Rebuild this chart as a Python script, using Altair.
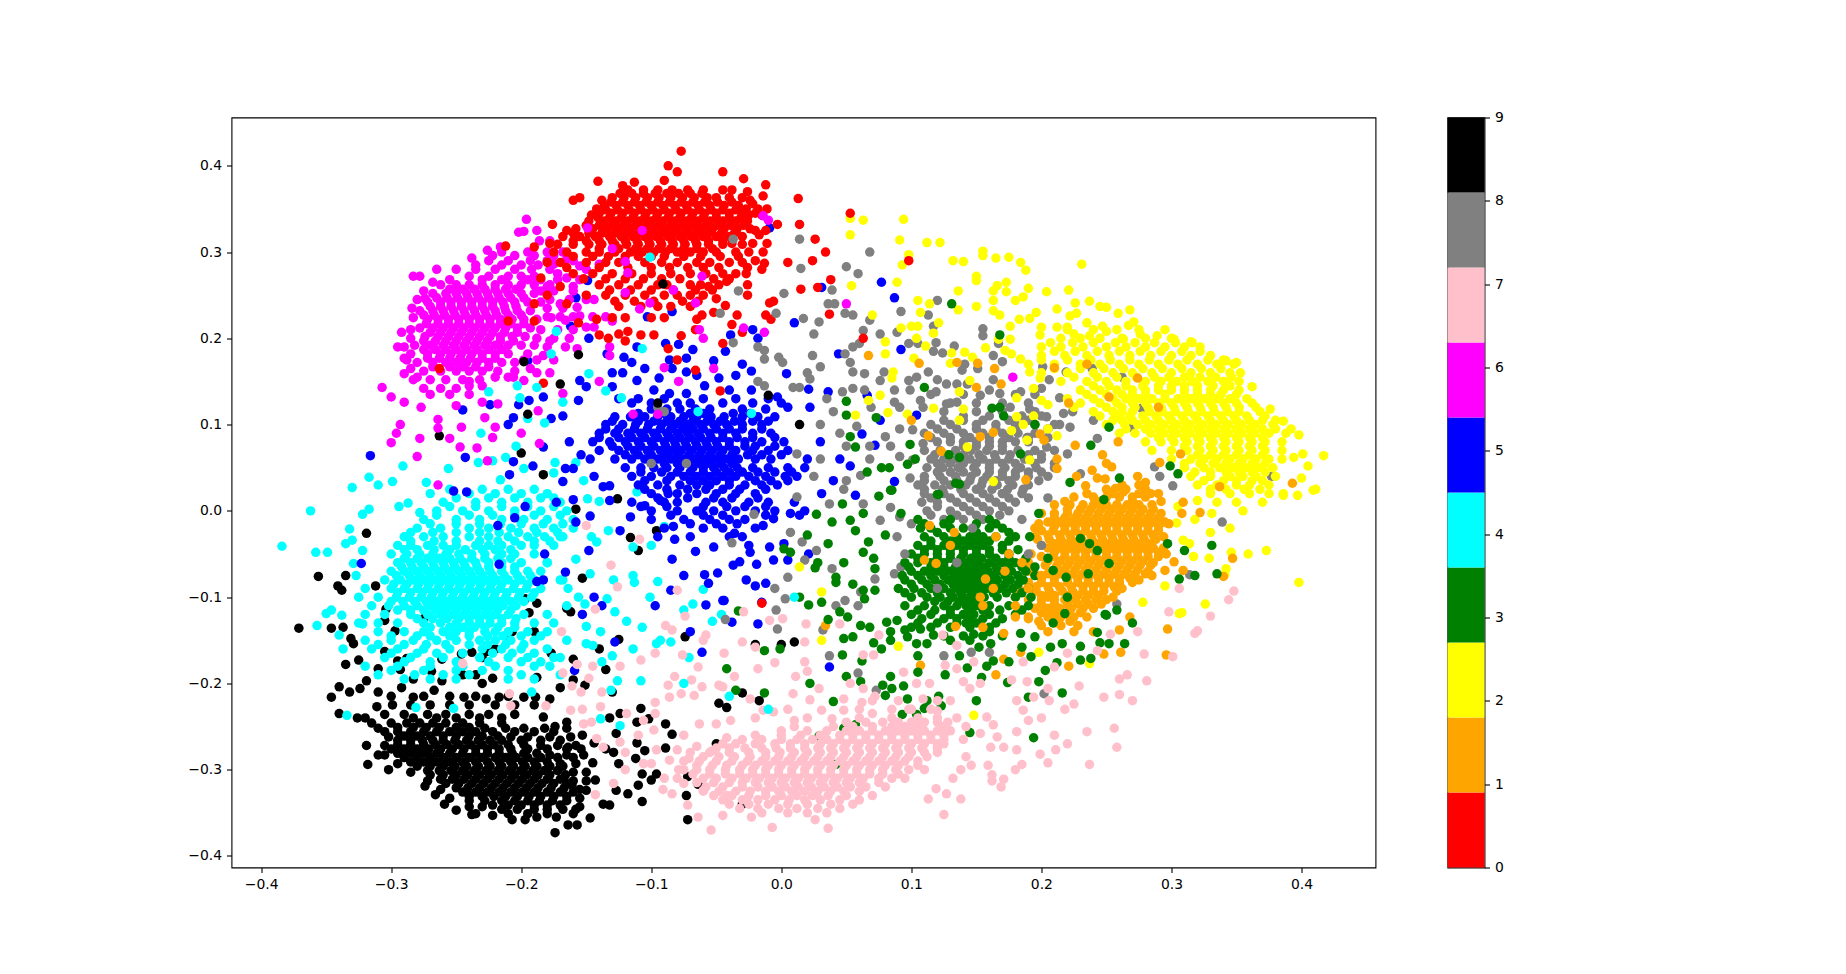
import altair as alt
import pandas as pd

COLORS = ["red","orange","yellow","green","cyan","blue","magenta","pink","gray","black"]
TICKS = [0,1,2,3,4,5,6,7,8,9]
BIN_LOW = [0,.9,1.8,2.7,3.6,4.5,5.4,6.3,7.2,8.1]
BIN_HIGH = [.9,1.8,2.7,3.6,4.5,5.4,6.3,7.2,8.1,9]
DRAW_ORDER = [9,4,5,6,0,8,2,1,3,7]

# ---- dense parts: (y, [x, x, ...]) ----
RED_CORE = [
(.372,[-.118,-.106,-.095,-.084,-.072,-.06,-.045,-.038]),
(.368,[-.124,-.115,-.106,-.097,-.088,-.079,-.07,-.061]),
(.363,[-.13,-.121,-.112,-.103,-.094,-.085,-.076,-.067,-.057,-.05,-.04,-.03]),
(.358,[-.131,-.122,-.113,-.104,-.095,-.086,-.077,-.068,-.059,-.049,-.038]),
(.354,[-.136,-.127,-.118,-.109,-.1,-.091,-.082,-.073,-.064,-.055,-.044,-.033]),
(.349,[-.135,-.126,-.117,-.108,-.099,-.09,-.081,-.072,-.063,-.054,-.045,-.035]),
(.345,[-.14,-.131,-.122,-.113,-.104,-.095,-.086,-.077,-.068,-.059,-.05,-.04,-.03,-.02]),
(.34,[-.141,-.132,-.123,-.114,-.105,-.096,-.087,-.078,-.069,-.06,-.05,-.04,-.031]),
(.336,[-.148,-.136,-.127,-.118,-.109,-.1,-.091,-.082,-.073,-.064,-.055,-.045,-.035,-.026]),
(.331,[-.15,-.14,-.13,-.121,-.112,-.103,-.094,-.085,-.076,-.067,-.058,-.049,-.039,-.029]),
(.327,[-.158,-.145,-.134,-.125,-.116,-.107,-.098,-.089,-.08,-.071,-.062,-.053,-.044,-.034,-.024]),
(.322,[-.16,-.148,-.138,-.128,-.119,-.11,-.101,-.092,-.083,-.074,-.065,-.056,-.046,-.036]),
(.318,[-.168,-.155,-.143,-.132,-.123,-.114,-.105,-.096,-.087,-.078,-.069,-.06,-.05,-.04,-.03]),
(.313,[-.16,-.15,-.14,-.13,-.12,-.111,-.102,-.093,-.084,-.075,-.066,-.056,-.045]),
(.309,[-.172,-.16,-.148,-.138,-.128,-.119,-.11,-.101,-.092,-.083,-.074,-.065,-.056,-.045,-.03]),
(.304,[-.14,-.125,-.112,-.103,-.094,-.085,-.075,-.065,-.053]),
(.3,[-.165,-.15,-.14,-.128,-.116,-.107,-.098,-.089,-.08,-.07,-.06,-.05,-.035,-.025]),
(.295,[-.16,-.145,-.133,-.12,-.11,-.1,-.09,-.075,-.062,-.047,-.033]),
(.288,[-.17,-.15,-.135,-.125,-.105,-.092,-.08,-.065,-.055,-.04,-.03]),
(.282,[-.165,-.14,-.118,-.1,-.086,-.072,-.06,-.048,-.026]),
(.275,[-.16,-.145,-.13,-.115,-.1,-.085,-.07,-.058,-.045,-.035]),
(.269,[-.152,-.135,-.12,-.106,-.092,-.078,-.052,-.04]),
(.262,[-.14,-.125,-.11,-.095,-.088,-.07,-.062,-.048]),
(.256,[-.132,-.116,-.1,-.083,-.066,-.053]),
(.25,[-.135,-.12,-.105,-.09,-.08,-.07,-.06]),
(.243,[-.128,-.113,-.098,-.076,-.064]),
(.237,[-.125,-.108,-.095,-.085,-.07]),
(.224,[-.13,-.12,-.1,-.09]),
(.343,[-.146,-.025,-.015]),(.325,[-.165,-.02,-.012]),(.35,[-.142,-.027,-.018]),(.31,[-.178,-.038,-.022]),(.36,[-.138,-.024]),
]
RED_SPARSE = [(-.077,.417),(-.087,.4),(-.08,.393),(-.045,.393),(-.012,.378),(-.141,.382),(-.122,.377),(-.113,.381),(-.09,.383),(-.029,.385),(-.014,.365),(-.026,.37),(-.022,.356),(-.011,.35),(.013,.362),(.014,.332),(.026,.315),(-.003,.332),(-.017,.32),(-.011,.31),(-.014,.3),(-.02,.29),(-.013,.287),(.005,.288),(.024,.29),(.034,.3),(.038,.268),(.015,.257),(.028,.259),(-.009,.241),(-.006,.243),(-.012,.227),(-.008,.222),(.037,.228),(-.03,.207),(-.038,.216),(-.045,.194),(-.034,.227),(-.043,.238),(-.05,.246),(-.052,.23),(-.061,.227),(-.065,.222),(-.066,.21),(-.077,.203),(-.098,.204),(-.108,.204),(-.087,.188),(-.08,.175),(-.066,.163),(-.12,.197),(-.118,.208),(-.125,.205),(-.133,.2),(-.14,.204),(-.142,.222),(-.156,.218),(-.047,.139),(-.183,.148),(-.212,.307),(-.19,.22),(-.19,.306),(-.18,.288),(-.175,.3),(-.176,.332),(-.16,.36),(-.155,.363),(-.026,.262),(-.026,.25),(-.042,.266),(-.015,.28),(-.027,.275),(-.056,.26),(-.18,.25),(-.17,.26),(-.165,.24),(-.15,.25),(-.185,.27)]

MAGENTA_CORE = [
(.272,[-.24,-.225,-.21,-.2,-.19]),
(.262,[-.262,-.25,-.24,-.23,-.22,-.21,-.2,-.19,-.178]),
(.257,[-.255,-.245,-.236,-.228,-.22,-.212,-.204]),
(.252,[-.268,-.258,-.25,-.242,-.234,-.226,-.218,-.21,-.2,-.19]),
(.247,[-.265,-.257,-.249,-.241,-.233,-.225,-.217,-.208,-.198]),
(.242,[-.272,-.262,-.254,-.246,-.238,-.23,-.222,-.214,-.205,-.195,-.185]),
(.237,[-.27,-.262,-.254,-.246,-.238,-.23,-.222,-.213,-.204]),
(.232,[-.278,-.268,-.26,-.252,-.244,-.236,-.228,-.22,-.212,-.203,-.193]),
(.227,[-.275,-.267,-.259,-.251,-.243,-.235,-.227,-.219,-.21,-.2]),
(.222,[-.272,-.264,-.256,-.248,-.24,-.232,-.224,-.216,-.207,-.198,-.188]),
(.217,[-.273,-.264,-.256,-.248,-.24,-.232,-.224,-.216,-.208,-.198]),
(.212,[-.278,-.268,-.26,-.252,-.244,-.236,-.228,-.22,-.212,-.203,-.193]),
(.207,[-.27,-.262,-.254,-.246,-.238,-.23,-.222,-.213,-.203]),
(.202,[-.274,-.264,-.256,-.248,-.24,-.232,-.224,-.216,-.207,-.197]),
(.197,[-.275,-.266,-.258,-.25,-.242,-.234,-.226,-.216,-.206]),
(.192,[-.282,-.27,-.26,-.252,-.244,-.236,-.228,-.22,-.21,-.2,-.19]),
(.187,[-.275,-.266,-.258,-.25,-.242,-.234,-.225,-.215]),
(.182,[-.285,-.272,-.262,-.254,-.246,-.238,-.23,-.22,-.21,-.195]),
(.177,[-.272,-.263,-.255,-.247,-.239,-.23,-.22]),
(.172,[-.28,-.268,-.258,-.25,-.242,-.234,-.225,-.215,-.205]),
(.167,[-.268,-.255,-.245,-.235,-.225]),
(.162,[-.275,-.262,-.25,-.24,-.23,-.218,-.205]),
(.152,[-.27,-.258,-.245,-.232]),
(.142,[-.275,-.262,-.25]),
(.285,[-.235,-.215,-.2,-.187]),
(.296,[-.222,-.205,-.19,-.175]),
(.3,[-.215,-.195,-.18,-.168]),
(.29,[-.225,-.21,-.193,-.18,-.16]),
(.28,[-.25,-.235,-.22,-.205,-.192,-.178,-.15]),
(.268,[-.255,-.23,-.215,-.195,-.185,-.172,-.155]),
(.255,[-.275,-.185,-.175,-.16]),
(.245,[-.178,-.163,-.15]),
(.235,[-.284,-.18,-.168]),
(.225,[-.18,-.17,-.16,-.145]),
(.21,[-.285,-.185,-.172,-.16]),
(.2,[-.285,-.188,-.175,-.163]),
(.19,[-.29,-.18]),
(.175,[-.288,-.198,-.188,-.175]),
(.165,[-.285,-.193]),
(.155,[-.28,-.22,-.21]),
(.145,[-.24,-.23]),
(.135,[-.27,-.255,-.24]),
]
MAGENTA_SPARSE = [(-.196,.338),(-.202,.323),(-.198,.324),(-.226,.302),(-.216,.306),(-.238,.293),(-.265,.28),(-.278,.272),(-.283,.272),(-.268,.265),(-.28,.245),(-.274,.246),(-.283,.224),(-.292,.207),(-.295,.19),(-.29,.177),(-.29,.159),(-.283,.152),(-.307,.143),(-.3,.132),(-.29,.126),(-.277,.12),(-.264,.106),(-.293,.1),(-.25,.122),(-.24,.15),(-.23,.126),(-.218,.124),(-.228,.108),(-.246,.097),(-.22,.097),(-.264,.096),(-.198,.151),(-.206,.155),(-.188,.16),(-.178,.16),(-.187,.116),(-.168,.136),(-.188,.325),(-.178,.313),(-.186,.313),(-.175,.286),(-.172,.275),(-.165,.292),(-.155,.284),(-.14,.286),(-.17,.24),(-.157,.236),(-.166,.221),(-.177,.224),(-.155,.226),(-.15,.213),(-.144,.213),(-.166,.19),(-.157,.188),(-.178,.197),(-.183,.18),(-.13,.22),(-.132,.19),(-.132,.18),(-.135,.225),(-.144,.245),(-.16,.26),(-.18,.26),(-.165,.27),(-.3,.079),(-.296,.09),(-.278,.084),(-.255,.084),(-.247,.074),(-.234,.073),(-.222,.085),(-.28,.063),(-.226,.058),(-.2,.09),(-.264,.03),(-.186,.078)]

BLUE_CORE = [
(.13,[-.125,-.11,-.09,-.06,-.035,-.01]),
(.125,[-.115,-.1,-.08,-.07,-.045,-.022,.0]),
(.118,[-.1,-.088,-.078,-.066,-.055,-.03,-.012]),
(.113,[-.11,-.09,-.07,-.06,-.037,-.024]),
(.109,[-.128,-.116,-.105,-.095,-.085,-.075,-.065,-.054,-.044,-.03,-.018,-.005]),
(.104,[-.13,-.11,-.098,-.088,-.078,-.068,-.057,-.047,-.036,-.022,-.01]),
(.1,[-.135,-.122,-.112,-.102,-.092,-.082,-.072,-.062,-.052,-.042,-.03,-.015]),
(.095,[-.135,-.125,-.113,-.103,-.093,-.085,-.076,-.068,-.06,-.05,-.04,-.03,-.015]),
(.09,[-.14,-.128,-.118,-.108,-.098,-.088,-.08,-.072,-.064,-.055,-.045,-.035,-.022,-.008]),
(.085,[-.14,-.125,-.115,-.105,-.095,-.086,-.078,-.07,-.062,-.054,-.045,-.034,-.022,-.005]),
(.08,[-.145,-.132,-.12,-.11,-.1,-.09,-.082,-.074,-.066,-.058,-.05,-.04,-.028,-.015,.002]),
(.075,[-.13,-.118,-.108,-.098,-.089,-.081,-.073,-.065,-.057,-.049,-.04,-.028,-.02,-.005]),
(.07,[-.14,-.125,-.113,-.103,-.093,-.085,-.077,-.069,-.061,-.053,-.045,-.035,-.022,-.01,.005]),
(.065,[-.12,-.11,-.1,-.09,-.08,-.071,-.063,-.055,-.047,-.038,-.026,-.015,.0]),
(.06,[-.128,-.115,-.105,-.095,-.085,-.075,-.067,-.059,-.051,-.043,-.033,-.02,-.008]),
(.055,[-.1,-.09,-.08,-.071,-.063,-.055,-.047,-.038]),
(.05,[-.12,-.108,-.098,-.088,-.078,-.068,-.06,-.052,-.044,-.034,-.022,-.01,.005,.018]),
(.045,[-.108,-.092,-.08,-.07,-.06,-.05,-.04,-.03,-.018,-.005,.008]),
(.04,[-.115,-.1,-.085,-.075,-.065,-.055,-.045,-.035,-.025,-.012,.003,.012]),
(.035,[-.105,-.088,-.07,-.06,-.05,-.04,-.02,-.008,.005]),
(.03,[-.11,-.095,-.078,-.065,-.055,-.04,-.028,-.015,-.003]),
(.025,[-.105,-.088,-.072,-.058,-.045,-.032,-.012]),
(.02,[-.1,-.08,-.065,-.05,-.035,-.02]),
(.015,[-.095,-.072,-.052,-.038,-.018]),
(.01,[-.115,-.09,-.058,-.045,-.025,-.01,.01]),
(.005,[-.108,-.088,-.06,-.042,-.028,-.012]),
(.0,[-.1,-.08,-.065,-.052,-.035,-.02,-.005,.018]),
(-.005,[-.085,-.06,-.045,-.012]),
(-.01,[-.1,-.075,-.055,-.04,-.028]),
(-.015,[-.07,-.05,-.034]),
(-.02,[-.09,-.06,-.045,-.02]),
(-.03,[-.095,-.07,-.04,-.03]),
]
BLUE_SPARSE = [(-.009,.328),(.031,.259),(-.149,.267),(-.158,.247),(-.084,.231),(-.103,.225),(-.162,.214),(.01,.218),(-.022,.21),(-.039,.204),(-.018,.2),(-.148,.2),(-.134,.182),(-.089,.194),(-.079,.193),(-.068,.187),(-.111,.19),(-.043,.185),(-.052,.174),(-.086,.175),(-.073,.177),(-.115,.172),(-.121,.178),(-.105,.165),(-.084,.165),(-.073,.161),(-.03,.17),(-.023,.162),(.004,.159),(-.065,.157),(-.048,.154),(-.035,.157),(-.094,.154),(-.122,.16),(-.13,.16),(-.155,.151),(-.15,.144),(-.13,.144),(-.111,.151),(-.098,.14),(-.086,.136),(-.073,.136),(-.059,.145),(-.04,.14),(-.023,.14),(-.003,.132),(.021,.141),(.036,.138),(.005,.12),(.022,.12),(.044,.182),(-.156,.128),(-.168,.11),(-.183,.132),(-.194,.128),(-.202,.123),(-.206,.108),(-.21,.1),(-.245,.117),(-.224,.123),(-.177,.107),(-.195,.174),(-.316,.064),(-.243,.062),(-.252,.023),(-.242,.022),(-.206,.057),(-.191,.052),(-.209,.042),(-.154,.065),(-.163,.08),(-.183,.074),(-.166,.049),(-.16,.049),(-.168,.034),(-.147,.06),(-.144,.04),(-.137,.028),(-.132,.029),(-.16,.013),(-.173,.01),(-.132,.012),(-.197,.005),(-.205,-.008),(-.218,-.017),(-.158,-.013),(-.147,-.006),(-.182,-.05),(-.217,-.062),(-.166,-.071),(-.188,-.082),(-.183,-.08),(-.323,-.061),(-.148,-.046),(-.144,-.1),(-.138,-.11),(-.153,-.12),(-.128,-.152),(-.159,-.185),(-.124,-.023),(-.116,-.007),(-.105,.006),(-.093,.012),(-.087,.02),(-.08,.01),(-.083,-.018),(-.082,-.033),(-.052,-.042),(-.066,-.047),(-.084,-.056),(-.075,-.075),(-.059,-.074),(-.049,-.072),(-.056,-.084),(-.085,-.092),(-.097,-.11),(-.058,-.109),(-.044,-.104),(-.07,-.14),(-.061,-.164),(-.012,-.084),(-.02,-.087),(-.027,-.08),(-.019,-.062),(-.032,-.059),(-.037,-.063),(-.006,-.057),(.005,-.057),(-.009,-.042),(.002,-.038),(-.024,-.048),(-.025,-.04),(-.036,-.026),(-.014,-.017),(-.006,-.009),(.007,-.003),(.014,-.005),(.021,-.05),(-.038,-.129),(-.018,-.131),(-.045,-.104),(-.015,-.106),(.037,-.181),(.077,.265),(.087,.247),(.092,.187),(.066,.134),(.104,.111),(.076,.105),(.062,.089),(.072,.076),(.053,.052),(.057,.018),(.087,.034),(.031,.02),(.04,.035),(.02,.06),(.045,.06),(.03,.08)]

CYAN_CORE = [
(.025,[-.255,-.23,-.21,-.19]),
(.02,[-.27,-.24,-.22,-.2,-.18]),
(.015,[-.25,-.225,-.205,-.185,-.175]),
(.01,[-.26,-.235,-.215,-.195,-.17]),
(.005,[-.255,-.235,-.215,-.195,-.175]),
(.0,[-.265,-.245,-.225,-.205,-.185,-.165]),
(-.005,[-.265,-.24,-.222,-.205,-.19,-.17]),
(-.01,[-.275,-.25,-.232,-.215,-.198,-.18,-.16]),
(-.015,[-.27,-.25,-.232,-.216,-.2,-.183,-.168]),
(-.02,[-.28,-.262,-.24,-.225,-.208,-.19,-.175,-.16]),
(-.025,[-.285,-.268,-.25,-.232,-.217,-.202,-.188,-.172]),
(-.03,[-.29,-.275,-.26,-.24,-.225,-.21,-.195,-.182,-.168]),
(-.035,[-.285,-.267,-.25,-.232,-.218,-.205,-.19,-.178]),
(-.04,[-.295,-.285,-.272,-.26,-.25,-.235,-.225,-.215,-.2,-.19,-.175]),
(-.045,[-.29,-.28,-.267,-.255,-.243,-.23,-.22,-.208]),
(-.05,[-.3,-.288,-.278,-.268,-.258,-.248,-.238,-.228,-.215,-.205,-.19]),
(-.055,[-.29,-.28,-.272,-.263,-.255,-.247,-.238,-.228,-.218,-.208]),
(-.06,[-.295,-.285,-.277,-.268,-.26,-.252,-.244,-.235,-.225,-.215,-.2,-.18]),
(-.065,[-.292,-.284,-.275,-.267,-.259,-.251,-.243,-.234,-.225,-.215,-.205]),
(-.07,[-.3,-.29,-.28,-.272,-.264,-.256,-.248,-.24,-.232,-.224,-.215,-.205,-.195,-.185]),
(-.075,[-.296,-.286,-.278,-.27,-.262,-.254,-.246,-.238,-.23,-.222,-.213,-.203,-.193]),
(-.08,[-.305,-.293,-.283,-.275,-.267,-.259,-.251,-.243,-.235,-.227,-.219,-.21,-.2,-.19]),
(-.085,[-.298,-.288,-.279,-.271,-.263,-.255,-.247,-.239,-.231,-.223,-.215,-.205,-.195]),
(-.09,[-.32,-.3,-.29,-.28,-.272,-.264,-.256,-.248,-.24,-.232,-.224,-.216,-.206,-.196,-.185]),
(-.095,[-.295,-.285,-.276,-.268,-.26,-.252,-.244,-.236,-.228,-.22,-.211,-.201,-.19]),
(-.1,[-.325,-.31,-.296,-.286,-.277,-.269,-.261,-.253,-.245,-.237,-.229,-.221,-.212,-.202,-.192]),
(-.105,[-.3,-.291,-.282,-.273,-.265,-.257,-.249,-.241,-.233,-.225,-.217,-.208,-.198]),
(-.11,[-.315,-.302,-.29,-.28,-.27,-.262,-.254,-.246,-.238,-.23,-.222,-.214,-.204]),
(-.115,[-.295,-.285,-.275,-.266,-.258,-.25,-.242,-.234,-.226,-.218,-.208]),
(-.12,[-.32,-.305,-.285,-.272,-.262,-.252,-.244,-.236,-.228,-.22,-.21,-.198,-.18]),
(-.125,[-.28,-.268,-.257,-.248,-.24,-.232,-.224,-.215,-.204]),
(-.13,[-.325,-.31,-.295,-.275,-.262,-.25,-.24,-.232,-.224,-.215,-.205,-.19,-.175]),
(-.135,[-.27,-.255,-.245,-.236,-.228,-.218,-.205]),
(-.14,[-.31,-.29,-.275,-.26,-.25,-.24,-.228,-.22,-.21,-.195,-.18]),
(-.145,[-.3,-.28,-.27,-.255,-.24,-.226,-.214,-.2,-.185]),
(-.15,[-.32,-.3,-.283,-.265,-.25,-.232,-.22,-.208,-.19]),
(-.155,[-.31,-.29,-.273,-.258,-.24,-.226,-.212,-.198]),
(-.16,[-.315,-.295,-.275,-.255,-.23,-.215,-.2,-.18]),
(-.165,[-.3,-.28,-.265,-.245,-.222,-.207,-.19]),
(-.17,[-.305,-.285,-.26,-.232,-.21,-.195,-.175]),
(-.175,[-.29,-.27,-.25,-.225,-.2,-.185]),
(-.18,[-.32,-.295,-.27,-.245,-.22,-.19,-.178]),
(-.185,[-.3,-.275,-.25,-.23,-.21]),
(-.19,[-.31,-.282,-.26,-.24,-.2]),
(-.195,[-.29,-.27,-.25,-.21,-.19]),
]
CYAN_SPARSE = [(-.384,-.041),(-.362,.0),(-.358,-.048),(-.349,-.048),(-.33,.027),(-.317,.039),(-.31,.03),(-.299,.034),(-.291,.052),(-.322,-.004),(-.317,.002),(-.294,.005),(-.287,.009),(-.278,-.002),(-.332,-.021),(-.335,-.038),(-.33,-.034),(-.322,-.046),(-.329,-.061),(-.327,-.075),(-.357,-.133),(-.35,-.119),(-.346,-.115),(-.338,-.121),(-.34,-.144),(-.322,-.131),(-.337,-.16),(-.334,-.237),(-.281,-.228),(-.252,-.229),(-.256,.049),(-.273,.033),(-.233,.056),(-.222,.058),(-.212,.062),(-.204,.075),(-.231,.09),(-.216,.036),(-.198,.049),(-.174,.056),(-.175,.044),(-.158,.056),(-.14,.011),(-.152,.035),(-.149,.014),(-.111,.022),(-.133,-.023),(-.146,-.03),(-.142,-.036),(-.158,-.056),(-.147,-.073),(-.168,-.08),(-.164,-.09),(-.156,-.1),(-.151,-.108),(-.134,-.102),(-.129,-.08),(-.114,-.075),(-.113,-.083),(-.128,-.117),(-.119,-.128),(-.107,-.135),(-.139,-.14),(-.15,-.134),(-.15,-.154),(-.145,-.156),(-.13,-.168),(-.138,-.175),(-.126,-.197),(-.108,-.197),(-.114,-.16),(-.096,-.154),(-.093,-.15),(-.085,-.152),(-.071,-.17),(-.075,-.115),(-.068,-.108),(-.06,-.091),(-.046,-.12),(-.053,-.128),(-.1,-.04),(-.114,-.042),(-.095,-.082),(-.09,-.018),(-.101,-.1),(-.124,-.249),(-.139,-.241),(-.131,-.208),(-.17,-.03),(-.18,-.06),(-.17,-.08),(-.165,-.11),(-.165,-.15),(-.17,-.17),(-.17,-.19),(-.192,-.21)]

BLACK_CORE = [
(-.215,[-.3,-.275,-.255,-.235,-.21]),
(-.225,[-.285,-.27,-.255,-.24,-.22,-.205,-.19]),
(-.236,[-.305,-.29,-.272,-.258,-.24,-.225,-.205]),
(-.24,[-.32,-.283,-.265,-.25,-.232,-.215]),
(-.246,[-.315,-.3,-.288,-.278,-.268,-.258,-.245,-.232,-.215]),
(-.251,[-.295,-.283,-.273,-.263,-.25,-.24]),
(-.252,[-.31,-.228,-.212,-.198,-.182,-.165]),
(-.256,[-.305,-.295,-.285,-.275,-.265,-.255,-.245,-.235,-.222,-.205,-.19,-.175]),
(-.261,[-.29,-.28,-.27,-.26,-.25,-.24,-.23,-.218]),
(-.262,[-.302,-.208,-.195,-.178,-.162]),
(-.266,[-.295,-.285,-.276,-.268,-.26,-.251,-.242,-.233,-.224,-.215,-.2,-.185,-.17]),
(-.271,[-.295,-.285,-.275,-.266,-.257,-.248,-.239,-.23,-.221,-.21,-.198]),
(-.272,[-.305,-.185,-.172,-.158]),
(-.276,[-.3,-.29,-.28,-.271,-.262,-.253,-.244,-.235,-.226,-.217,-.208,-.195,-.18,-.165]),
(-.281,[-.295,-.285,-.275,-.265,-.255,-.245,-.235,-.226,-.217,-.207,-.198,-.188]),
(-.283,[-.305,-.178,-.165,-.152]),
(-.286,[-.29,-.28,-.27,-.26,-.25,-.24,-.23,-.22,-.212,-.204,-.195,-.185,-.172,-.16]),
(-.291,[-.285,-.275,-.265,-.255,-.245,-.235,-.226,-.217,-.208,-.199,-.19,-.18]),
(-.293,[-.295,-.17,-.158]),
(-.296,[-.28,-.27,-.26,-.251,-.242,-.233,-.224,-.215,-.206,-.197,-.188,-.178,-.168]),
(-.301,[-.272,-.263,-.254,-.245,-.236,-.227,-.218,-.209,-.2,-.191,-.182,-.172]),
(-.303,[-.285,-.16,-.15]),
(-.306,[-.27,-.26,-.25,-.241,-.232,-.223,-.214,-.205,-.196,-.187,-.178,-.166]),
(-.311,[-.262,-.253,-.244,-.235,-.226,-.217,-.208,-.199,-.19,-.18,-.17]),
(-.313,[-.272,-.16,-.15]),
(-.316,[-.258,-.248,-.238,-.229,-.22,-.211,-.202,-.193,-.184,-.175,-.165]),
(-.321,[-.25,-.241,-.232,-.223,-.214,-.205,-.196,-.187,-.177,-.167]),
(-.323,[-.262,-.155]),
(-.326,[-.245,-.235,-.226,-.217,-.208,-.199,-.19,-.18,-.17,-.16]),
(-.331,[-.24,-.23,-.221,-.212,-.203,-.194,-.185,-.175,-.165]),
(-.333,[-.255,-.155]),
(-.336,[-.24,-.228,-.215,-.205,-.195,-.186,-.176,-.165]),
(-.341,[-.222,-.21,-.2,-.19,-.18,-.17]),
(-.343,[-.24,-.23,-.155]),
(-.346,[-.215,-.203,-.19,-.18,-.168,-.158]),
(-.351,[-.235,-.21,-.195,-.18,-.16]),
]
BLACK_SPARSE = [(-.371,-.136),(-.356,-.076),(-.319,-.026),(-.335,-.075),(-.341,-.087),(-.338,-.092),(-.312,-.087),(-.304,-.114),(-.346,-.136),(-.337,-.135),(-.305,-.127),(-.297,-.139),(-.275,-.125),(-.331,-.148),(-.329,-.154),(-.305,-.163),(-.325,-.173),(-.335,-.178),(-.31,-.183),(-.288,-.171),(-.295,-.174),(-.293,-.184),(-.269,-.186),(-.261,-.172),(-.246,-.166),(-.238,-.164),(-.226,-.163),(-.22,-.16),(-.23,-.17),(-.245,-.19),(-.235,-.19),(-.222,-.194),(-.23,-.2),(-.207,-.14),(-.21,-.145),(-.19,-.14),(-.194,-.118),(-.188,-.107),(-.197,-.102),(-.165,-.113),(-.162,-.117),(-.153,-.078),(-.188,-.193),(-.177,-.165),(-.16,-.172),(-.135,-.184),(-.17,-.205),(-.16,-.196),(-.151,-.202),(-.13,-.21),(-.34,-.204),(-.346,-.216),(-.332,-.21),(-.324,-.206),(-.319,-.197),(-.31,-.21),(-.34,-.235),(-.326,-.24),(-.319,-.272),(-.318,-.294),(-.31,-.283),(-.302,-.3),(-.283,-.195),(-.292,-.205),(-.299,-.225),(-.311,-.227),(-.283,-.216),(-.267,-.208),(-.261,-.197),(-.244,-.216),(-.227,-.218),(-.217,-.216),(-.198,-.216),(-.189,-.216),(-.178,-.218),(-.183,-.239),(-.174,-.25),(-.165,-.245),(-.153,-.26),(-.164,-.274),(-.154,-.276),(-.145,-.292),(-.161,-.318),(-.132,-.24),(-.124,-.235),(-.108,-.229),(-.102,-.241),(-.111,-.245),(-.089,-.247),(-.084,-.259),(-.089,-.275),(-.111,-.269),(-.105,-.278),(-.112,-.287),(-.125,-.293),(-.135,-.276),(-.129,-.28),(-.144,-.269),(-.127,-.258),(-.107,-.305),(-.1,-.312),(-.096,-.305),(-.072,-.308),(-.064,-.317),(-.073,-.33),(-.072,-.358),(-.147,-.356),(-.174,-.373),(-.15,-.324),(-.143,-.312),(-.137,-.34),(-.127,-.324),(-.132,-.341),(-.118,-.328),(-.107,-.337),(-.11,-.318),(-.157,-.364),(-.164,-.364),(-.173,-.355),(-.188,-.355),(-.197,-.358),(-.207,-.358),(-.222,-.353),(-.238,-.352),(-.25,-.347),(-.259,-.34),(-.266,-.329),(-.274,-.319),(-.126,.014),(-.158,.002),(-.183,.042),(-.2,.067),(-.263,.087),(-.096,-.023),(-.116,-.031),(-.11,-.046),(-.048,-.223),(-.042,-.228),(-.074,-.146),(-.125,-.149),(-.14,-.16),(-.03,-.211),(-.017,-.22),(-.02,-.155),(.0,-.155),(.01,-.152),(-.05,-.27),(-.03,-.34)]

PINK_CORE = [
(-.22,[.07,.09,.12]),
(-.23,[.06,.085,.1,.115]),
(-.24,[.06,.085,.105,.12]),
(-.245,[.05,.065,.078,.09,.1,.11,.12,.128]),
(-.25,[.01,.04,.055,.07,.085,.095,.105,.125]),
(-.255,[.0,.02,.035,.05,.06,.07,.08,.09,.1,.11,.12,.13]),
(-.26,[-.02,.0,.015,.03,.045,.055,.065,.075,.085,.095,.105,.115,.125]),
(-.265,[-.03,-.015,.0,.012,.024,.035,.045,.055,.065,.075,.085,.095,.105,.115,.125]),
(-.27,[-.045,-.035,-.02,-.005,.007,.018,.03,.04,.05,.06,.07,.08,.09,.1,.11,.12,.125]),
(-.275,[-.05,-.04,-.028,-.015,-.004,.007,.018,.028,.038,.048,.058,.068,.078,.088,.098,.108,.12]),
(-.28,[-.07,-.055,-.04,-.025,-.012,-.001,.01,.02,.03,.04,.05,.06,.07,.08,.09,.1,.11,.12]),
(-.285,[-.06,-.048,-.036,-.024,-.012,-.002,.008,.018,.028,.038,.048,.058,.068,.078,.088,.098,.112]),
(-.29,[-.075,-.063,-.05,-.038,-.026,-.015,-.005,.005,.015,.025,.035,.045,.055,.065,.075,.085,.095,.105]),
(-.295,[-.065,-.053,-.042,-.03,-.02,-.01,.0,.01,.02,.03,.04,.05,.06,.07,.08,.09,.105]),
(-.3,[-.075,-.065,-.055,-.043,-.032,-.022,-.012,-.002,.008,.018,.028,.038,.048,.058,.068,.078,.088,.098,.11]),
(-.305,[-.068,-.055,-.043,-.032,-.022,-.012,-.002,.008,.018,.028,.038,.048,.058,.068,.078,.09]),
(-.31,[-.08,-.06,-.05,-.038,-.027,-.017,-.007,.003,.013,.023,.033,.043,.053,.063,.075,.085,.095]),
(-.315,[-.065,-.052,-.04,-.03,-.02,-.01,.0,.01,.02,.03,.04,.05,.06,.075]),
(-.32,[-.058,-.045,-.03,-.018,-.007,.003,.013,.023,.033,.043,.053,.065,.08]),
(-.325,[-.06,-.048,-.035,-.024,-.012,-.002,.008,.018,.028,.038,.048,.06]),
(-.33,[-.052,-.038,-.025,-.012,.0,.012,.024,.036,.05,.07]),
(-.335,[-.045,-.03,-.018,-.005,.006,.018,.03,.045,.06]),
(-.34,[-.04,-.025,-.01,.005,.02,.038,.055]),
(-.345,[-.032,-.018,-.002,.012,.028,.045]),
(-.35,[-.015,.005,.02,.035]),
]
PINK_SPARSE = [(-.007,-.367),(.036,-.368),(.026,-.358),(.125,-.352),(-.023,-.355),(.138,-.334),(.113,-.334),(.169,-.32),(.171,-.311),(.162,-.306),(.162,-.313),(.159,-.295),(.237,-.294),(.205,-.292),(.18,-.3),(.185,-.294),(.199,-.282),(.211,-.277),(.22,-.27),(.258,-.274),(.256,-.252),(.235,-.256),(.21,-.26),(.2,-.24),(.19,-.243),(.186,-.231),(.218,-.23),(.225,-.224),(.229,-.203),(.248,-.216),(.26,-.213),(.27,-.22),(.281,-.197),(.26,-.195),(.266,-.19),(.301,-.169),(.279,-.166),(.298,-.117),(.306,-.09),(.33,-.122),(.318,-.142),(.32,-.139),(.344,-.103),(.348,-.093),(.206,-.22),(.205,-.206),(.181,-.22),(.177,-.196),(.189,-.198),(.194,-.216),(.158,-.239),(.163,-.248),(.166,-.262),(.181,-.256),(.181,-.277),(.171,-.274),(.161,-.274),(.153,-.258),(.142,-.285),(.146,-.295),(.138,-.3),(.132,-.31),(.127,-.328),(.119,-.322),(.145,-.206),(.14,-.198),(.153,-.2),(.186,-.175),(.21,-.181),(.22,-.165),(.243,-.162),(.253,-.143),(.274,-.14),(-.03,-.152),(-.02,-.158),(-.044,-.165),(-.018,-.183),(-.036,-.192),(-.005,-.176),(.018,-.152),(.018,-.175),(.02,-.186),(.011,-.192),(.009,-.212),(.029,-.206),(.022,-.219),(.005,-.23),(-.006,-.233),(-.014,-.231),(-.024,-.218),(-.045,-.204),(-.039,-.243),(.053,-.2),(.063,-.206),(.072,-.215),(.048,-.218),(.048,-.231),(.062,-.222),(.039,-.241),(.031,-.231),(.063,-.167),(.071,-.167),(.094,-.187),(.104,-.2),(.114,-.2),(.109,-.218),(.098,-.23),(.124,-.144),(.135,-.156),(.126,-.179),(.135,-.183),(.148,-.175),(-.009,-.127),(.001,-.125),(.019,-.131),(.045,-.131),(.075,-.144),(-.029,-.117),(-.054,-.37),(-.064,-.355),(-.045,-.353),(-.072,-.341),(-.091,-.323),(-.084,-.328),(-.129,-.316),(-.143,-.329),(-.124,-.268),(-.137,-.274),(-.142,-.264),(-.152,-.247),(-.146,-.245),(-.119,-.235),(-.097,-.222),(-.097,-.235),(-.106,-.243),(-.098,-.254),(-.075,-.26),(-.063,-.247),(-.082,-.192),(-.087,-.202),(-.069,-.196),(-.061,-.204),(-.077,-.212),(-.067,-.214),(-.086,-.216),(-.064,-.181),(-.048,-.202),(-.058,-.144),(-.06,-.15),(-.074,-.122),(-.089,-.133),(-.084,-.138),(-.076,-.167),(-.097,-.165),(-.108,-.173),(-.124,-.18),(-.131,-.063),(-.126,-.088),(-.143,-.114),(-.169,-.14),(-.168,-.188),(-.145,-.18),(-.157,-.178),(-.148,-.194),(-.161,-.203),(-.154,-.21),(-.138,-.21),(-.139,-.227),(-.153,-.23),(-.162,-.231),(-.181,-.226),(-.209,-.212),(-.208,-.226),(-.245,-.177),(-.109,-.033),(-.08,-.092),(-.15,-.017),(-.1,-.293),(-.096,-.277),(-.086,-.289),(-.079,-.3),(-.071,-.287),(-.05,-.247),(-.042,-.263),(-.053,-.278),(-.065,-.273),(-.08,-.277),(-.075,-.316),(-.06,-.324),(-.042,-.33),(-.106,-.293),(-.09,-.31),(-.12,-.28),(-.11,-.26),(-.12,-.3),(-.02,-.24),(.01,-.243),(.02,-.24),(.07,-.235),(.12,-.232),(.13,-.22),(.135,-.24),(.142,-.25),(.14,-.265)]

ORANGE_CORE = [
(.03,[.262,.275]),
(.025,[.25,.265,.28]),
(.02,[.235,.255,.275,.29]),
(.016,[.225,.24,.25,.26,.27,.28]),
(.011,[.218,.245,.27,.292]),
(.007,[.21,.222,.232,.24,.25,.258,.266,.275,.285]),
(.002,[.22,.23,.238,.246,.254,.262,.27,.278,.286]),
(-.003,[.2,.21,.22,.228,.236,.244,.252,.26,.268,.276,.284,.292]),
(-.008,[.21,.218,.226,.234,.242,.25,.258,.266,.274,.282,.29]),
(-.013,[.205,.214,.222,.23,.238,.246,.254,.262,.27,.278,.286,.295]),
(-.015,[.198,.298]),
(-.018,[.21,.218,.226,.234,.242,.25,.258,.266,.274,.282,.29]),
(-.023,[.2,.209,.218,.226,.234,.242,.25,.258,.266,.274,.282,.29]),
(-.028,[.205,.214,.222,.23,.238,.246,.254,.262,.27,.278,.286]),
(-.03,[.195,.294]),
(-.033,[.197,.206,.215,.223,.231,.239,.247,.255,.263,.271,.279,.288]),
(-.038,[.21,.218,.226,.234,.242,.25,.258,.266,.274,.283]),
(-.043,[.205,.214,.222,.23,.238,.246,.254,.262,.27,.278,.286,.294]),
(-.048,[.21,.218,.226,.234,.242,.25,.258,.266,.274,.282,.29]),
(-.05,[.192]),
(-.053,[.2,.209,.218,.226,.234,.242,.25,.258,.266,.274,.282,.29]),
(-.058,[.205,.214,.222,.23,.238,.246,.254,.262,.27,.278]),
(-.06,[.19,.286]),
(-.063,[.203,.212,.22,.228,.236,.244,.252,.26,.268,.276,.284]),
(-.068,[.21,.218,.226,.234,.242,.25,.258,.266,.274]),
(-.07,[.19,.282]),
(-.073,[.195,.205,.215,.224,.232,.24,.248,.256,.264,.272,.28]),
(-.075,[.285]),
(-.078,[.2,.21,.22,.228,.236,.244,.252,.26,.268]),
(-.08,[.185,.275]),
(-.083,[.19,.2,.21,.22,.228,.236,.244,.252,.26,.27]),
(-.088,[.196,.205,.214,.223,.232,.24,.248,.256]),
(-.09,[.18,.262]),
(-.093,[.185,.196,.206,.216,.224,.232,.24,.248,.258]),
(-.098,[.2,.21,.22,.228,.236,.244]),
(-.1,[.18,.255]),
(-.103,[.19,.2,.21,.218,.226,.234,.242,.25]),
(-.108,[.2,.21,.22,.228,.236,.246]),
(-.113,[.195,.205,.214,.223,.232,.24]),
(-.118,[.2,.21,.22,.23]),
(-.123,[.19,.205,.215,.225,.235]),
(-.128,[.198,.21,.222]),
(-.133,[.2,.215,.228]),
(-.14,[.205,.225,.24]),
]
ORANGE_SPARSE = [(.067,.18),(.1,.105),(.113,.087),(.106,.171),(.135,.172),(.151,.171),(.164,.165),(.169,.147),(.15,.143),(.21,.166),(.235,.17),(.274,.154),(.252,.132),(.221,.125),(.29,.12),(.307,.066),(.291,.056),(.259,.08),(.247,.065),(.337,.028),(.393,.032),(.153,.086),(.163,.091),(.199,.089),(.202,.082),(.212,.06),(.212,.049),(.226,.076),(.227,.04),(.25,.055),(.254,.051),(.239,.047),(.243,.038),(.249,.037),(.274,.04),(.28,.033),(.284,.02),(.257,.026),(.263,.022),(.234,.029),(.188,.036),(.123,.069),(.297,-.137),(.296,-.167),(.221,-.18),(.248,-.166),(.261,-.164),(.165,-.19),(.171,-.172),(.184,-.164),(.268,-.123),(.26,-.138),(.34,-.076),(.322,-.002),(.308,-.003),(.309,.01),(.302,-.059),(.295,-.069),(.309,-.069),(.296,-.05),(.294,-.013),(.347,-.055),(.034,-.133),(.107,-.179)]

GREEN_CORE = [
(-.01,[.105,.13,.16]),
(-.015,[.11,.125,.15,.165]),
(-.02,[.115,.13,.14,.16,.17]),
(-.025,[.12,.15,.175]),
(-.03,[.11,.125,.135,.145,.155,.165,.18]),
(-.035,[.115,.13,.14,.15,.16,.175]),
(-.04,[.105,.115,.125,.135,.145,.155,.17]),
(-.045,[.11,.12,.13,.14,.15,.16,.17,.182]),
(-.05,[.1,.11,.12,.13,.14,.15,.16,.175]),
(-.055,[.105,.12,.13,.138,.146,.154,.165,.175,.188]),
(-.06,[.095,.105,.115,.125,.135,.143,.151,.16,.17,.18]),
(-.065,[.098,.115,.125,.134,.14,.148,.156,.165,.175,.185,.195]),
(-.07,[.1,.11,.12,.13,.137,.144,.151,.159,.167,.177,.188]),
(-.075,[.093,.105,.115,.125,.133,.14,.148,.155,.163,.172,.182,.195]),
(-.08,[.095,.108,.118,.128,.136,.143,.15,.158,.166,.176,.186]),
(-.085,[.1,.112,.122,.132,.14,.147,.154,.162,.172,.182]),
(-.09,[.09,.102,.115,.125,.135,.142,.15,.158,.168,.178,.19]),
(-.095,[.095,.108,.12,.13,.138,.146,.154,.163,.173,.185]),
(-.1,[.1,.112,.122,.132,.14,.148,.156,.166,.18,.192]),
(-.105,[.118,.128,.137,.145,.153]),
(-.11,[.095,.11,.125,.135,.142,.15,.16,.175,.19]),
(-.115,[.105,.118,.13,.145,.155,.168,.185]),
(-.12,[.1,.115,.13,.14,.148,.16,.18]),
(-.125,[.108,.125,.135,.145,.155,.17]),
(-.13,[.105,.12,.135,.142,.15,.165]),
(-.135,[.1,.115,.13,.145,.16]),
(-.145,[.125,.14,.155,.17]),
(-.15,[.13,.145]),
]
GREEN_SPARSE = [(.014,-.1),(.021,-.109),(.031,-.106),(.036,-.126),(.051,-.123),(.045,-.117),(.061,-.133),(.068,-.135),(.048,-.148),(.055,-.146),(.071,-.153),(.077,-.16),(.084,-.14),(.084,-.15),(.047,-.167),(.062,-.174),(.05,-.192),(.061,-.198),(.084,-.192),(.078,-.202),(.085,-.206),(.08,-.214),(.094,-.203),(.097,-.218),(.112,-.22),(.11,-.229),(.121,-.215),(.123,-.226),(.093,-.236),(.104,-.236),(.15,-.22),(.022,-.2),(.04,-.221),(.048,-.252),(.057,-.248),(.029,-.261),(.042,-.294),(.145,-.257),(.194,-.263),(.216,-.211),(.198,-.198),(.19,-.216),(.203,-.185),(.238,-.171),(.23,-.173),(.212,-.176),(.192,-.169),(.175,-.175),(.126,-.19),(.174,-.199),(.154,-.193),(.143,-.182),(.158,-.18),(.163,-.174),(.137,-.168),(.105,-.168),(.105,-.187),(.112,-.154),(.104,-.154),(.097,-.146),(.107,-.137),(.117,-.144),(.148,-.143),(.16,-.14),(.161,-.154),(.152,-.158),(.185,-.158),(.207,-.158),(.216,-.154),(.23,-.157),(.245,-.153),(.252,-.154),(.264,-.154),(.243,-.141),(.27,-.13),(.249,-.12),(.258,-.115),(.195,-.146),(.184,-.142),(.297,-.038),(.31,-.046),(.318,-.075),(.335,-.073),(.306,-.079),(.331,-.04),(-.042,-.183),(-.033,-.116),(-.013,-.211),(-.035,-.208),(-.013,-.162),(-.001,-.16),(.027,-.004),(.02,-.028),(.002,-.044),(.007,-.048),(.028,-.06),(.026,-.066),(.048,-.06),(.036,-.038),(.042,-.077),(.042,-.083),(.055,-.085),(.063,-.092),(.064,-.102),(.072,-.092),(.071,-.055),(.072,-.067),(.08,-.028),(.063,-.003),(.053,-.011),(.047,.008),(.039,-.013),(.057,-.023),(.067,-.036),(.063,-.048),(.092,-.003),(.085,.024),(.121,.019),(.107,-.02),(.137,.031),(.089,-.127),(.081,-.129),(.095,-.138),(.131,.24),(.11,.143),(.05,.127),(.05,.111),(.073,.108),(.053,.086),(.057,.074),(.099,.077),(.077,.05),(.083,.05),(.066,.045),(.097,.054),(.103,.06),(.129,.065),(.137,.062),(.162,.119),(.168,.12),(.171,.11),(.195,.1),(.238,.076),(.252,.097),(.168,.204),(.299,.052),(.305,.043),(.184,.066),(.222,.033),(.26,.038),(.084,.024),(.12,.019),(.134,.032),(.075,.017)]

GRAY_CORE = [
(.135,[.115,.14,.18,.195]),
(.125,[.13,.15,.17,.19]),
(.115,[.125,.15,.17,.195]),
(.11,[.14,.16,.185,.2]),
(.105,[.125,.14,.155,.175,.19]),
(.1,[.115,.13,.15,.165,.18,.195,.21]),
(.095,[.12,.135,.15,.165,.18,.205]),
(.09,[.11,.125,.14,.155,.17,.182,.195]),
(.085,[.115,.13,.145,.16,.175,.19,.205]),
(.08,[.12,.13,.14,.15,.16,.17,.18,.19]),
(.075,[.14,.15,.16,.17]),
(.07,[.11,.122,.134,.146,.158,.17,.182,.195,.21]),
(.065,[.118,.128,.14,.152,.164,.176,.19,.2]),
(.06,[.115,.125,.135,.145,.155,.165,.175,.187,.2]),
(.055,[.12,.13,.14,.15,.16,.17,.18,.195,.21]),
(.05,[.112,.124,.136,.148,.16,.172,.184,.196,.21]),
(.045,[.12,.13,.14,.15,.16,.17,.18,.19,.2]),
(.04,[.11,.122,.134,.146,.158,.17,.18,.19,.205]),
(.035,[.11,.125,.135,.145,.155,.165,.175,.198]),
(.03,[.105,.118,.13,.142,.154,.166,.178,.19]),
(.025,[.11,.124,.138,.15,.162,.174,.186]),
(.02,[.11,.125,.14,.155,.17,.185]),
(.015,[.115,.13,.145,.16,.175,.19]),
(.01,[.108,.12,.135,.15,.165,.18]),
(.005,[.12,.14,.155,.17]),
(.0,[.112,.13,.145,.16,.175]),
(-.005,[.115,.135,.15,.168]),
(-.01,[.125,.14,.155]),
]
GRAY_SPARSE = [(.068,.3),(.05,.283),(.059,.275),(.049,.229),(.055,.227),(.068,.221),(.063,.209),(.076,.205),(.092,.231),(.12,.244),(.113,.227),(.117,.214),(.089,.207),(.098,.194),(.105,.194),(.119,.195),(.117,.185),(.124,.183),(.133,.191),(.155,.211),(.155,.203),(.167,.194),(.163,.18),(.17,.173),(.151,.165),(.141,.17),(.139,.163),(.163,.152),(.184,.138),(.201,.167),(.206,.152),(.2,.142),(.214,.131),(.219,.161),(.239,.165),(.262,.155),(.277,.119),(.24,.105),(.269,.097),(.243,.084),(.287,.051),(.291,.04),(.301,.029),(.377,.04),(.06,.194),(.055,.19),(.049,.182),(.053,.172),(.055,.161),(.079,.161),(.076,.151),(.064,.159),(.055,.142),(.047,.138),(.064,.14),(.087,.14),(.087,.126),(.091,.12),(.069,.12),(.098,.151),(.104,.155),(.113,.161),(.12,.152),(.127,.147),(.099,.14),(.107,.128),(.109,.12),(.119,.138),(.135,.147),(.143,.147),(.135,.126),(.127,.124),(.153,.134),(.16,.14),(.168,.136),(.176,.12),(.191,.118),(.204,.109),(.214,.1),(.222,.097),(.224,.115),(.217,.113),(.189,.085),(.204,.074),(.22,.066),(.23,.043),(.05,.075),(.058,.098),(.068,.075),(.068,.06),(.061,.041),(.084,.075),(.091,.063),(.101,.059),(.109,.078),(.101,.094),(.091,.095),(.08,.086),(.099,.038),(.007,-.025),(.016,-.036),(.012,.016),(.037,.008),(.048,.025),(.063,.008),(.076,-.011),(.089,-.03),(.091,-.007),(.084,.004),(.1,-.015),(-.021,-.004),(-.038,-.037),(.027,-.046),(.018,-.057),(.005,-.077),(-.005,-.09),(.003,-.102),(-.004,-.115),(-.003,-.137),(-.043,-.126),(.032,-.138),(.037,-.168),(.059,-.188),(.073,-.208),(.202,-.212),(.125,-.168),(.146,-.164),(.16,-.164),(.072,-.079),(.061,-.094),(.049,-.104),(.042,-.11),(.059,-.11),(.039,-.067),(.092,-.065),(.087,-.073),(.339,-.013),(.314,-.074),(.258,-.108),(.014,.315),(.002,.252),(.015,.281),(.039,.256),(.036,.24),(.041,.24),(.017,.223),(.029,.219),(.025,.205),(-.004,.229),(-.047,.229),(-.037,.195),(-.018,.19),(-.013,.186),(-.013,.176),(-.002,.178),(.001,.172),(.024,.18),(.03,.167),(.02,.16),(.022,.153),(-.018,.15),(-.013,.145),(.009,.143),(.014,.143),(-.033,.255),(-.037,.315),(.03,.1),(.04,.115),(.035,.13),(.045,.09),(.03,.06),(.05,.035),(.025,.04)]

YELLOW_CORE = [
(.21,[.22,.24,.258,.275,.295]),
(.2,[.215,.23,.245,.262,.28,.3]),
(.195,[.207,.224,.24,.257,.272,.287,.303,.316]),
(.19,[.2,.215,.232,.25,.265,.28,.295,.31,.322]),
(.185,[.21,.226,.243,.26,.276,.292,.308,.322]),
(.18,[.2,.218,.235,.252,.268,.284,.3,.315,.33]),
(.175,[.2,.22,.238,.253,.268,.283,.298,.312,.328,.34]),
(.17,[.19,.21,.23,.245,.26,.275,.29,.305,.32,.335,.348]),
(.165,[.21,.23,.248,.263,.278,.293,.308,.323,.338]),
(.16,[.2,.22,.24,.255,.27,.285,.3,.315,.33,.345]),
(.155,[.225,.243,.258,.273,.287,.298,.31,.322,.334,.346]),
(.15,[.215,.235,.25,.265,.28,.292,.304,.316,.328,.34,.352]),
(.145,[.24,.252,.265,.278,.29,.3,.31,.32,.332,.345]),
(.14,[.23,.245,.258,.27,.28,.29,.3,.31,.32,.33,.34,.352]),
(.135,[.235,.25,.262,.27,.28,.295,.31,.32,.33,.338,.35]),
(.13,[.22,.24,.255,.265,.275,.285,.295,.305,.315,.325,.335,.345,.358]),
(.125,[.23,.245,.258,.27,.28,.29,.3,.31,.32,.33,.34,.35,.362]),
(.12,[.225,.25,.262,.272,.282,.292,.302,.312,.322,.332,.342,.352,.365]),
(.115,[.24,.255,.262,.27,.283,.293,.303,.313,.323,.333,.343,.352,.368]),
(.11,[.245,.258,.268,.278,.288,.298,.308,.318,.328,.338,.348,.358,.372]),
(.105,[.255,.262,.27,.28,.29,.3,.31,.32,.33,.34,.35,.36,.37,.38]),
(.1,[.25,.264,.274,.284,.294,.304,.314,.324,.334,.344,.354,.364,.378]),
(.095,[.265,.28,.29,.3,.31,.32,.33,.34,.35,.36,.37,.38,.392]),
(.09,[.26,.272,.284,.294,.304,.314,.324,.334,.344,.354,.364,.375,.388]),
(.085,[.29,.3,.31,.32,.33,.34,.35,.36,.37]),
(.08,[.28,.292,.302,.312,.322,.332,.342,.352,.362,.372,.385]),
(.075,[.31,.32,.33,.34,.35,.36,.37]),
(.07,[.285,.3,.312,.322,.332,.342,.352,.362,.372,.385]),
(.065,[.32,.33,.34,.35,.36,.37]),
(.06,[.3,.315,.325,.335,.345,.355,.365,.375,.385]),
(.055,[.31,.322,.332,.342,.352,.362,.372]),
(.05,[.31,.325,.337,.347,.357,.367,.378]),
(.045,[.318,.33,.342,.352,.362,.372]),
(.04,[.315,.33,.345,.355,.365,.38]),
(.035,[.325,.34,.35,.362,.37]),
(.03,[.32,.335,.35,.36,.375]),
(.025,[.33,.342,.356,.368]),
(.02,[.33,.345,.36,.375,.386]),
(.01,[.335,.35,.37]),
]
YELLOW_SPARSE = [(.053,.339),(.063,.337),(.094,.338),(.053,.32),(.091,.314),(.112,.311),(.122,.311),(.098,.297),(.093,.285),(.089,.265),(.054,.261),(.132,.29),(.14,.289),(.155,.301),(.155,.296),(.165,.293),(.175,.294),(.184,.288),(.188,.279),(.231,.286),(.15,.272),(.15,.267),(.136,.255),(.105,.244),(.114,.24),(.107,.23),(.136,.233),(.15,.237),(.163,.255),(.166,.261),(.173,.265),(.173,.254),(.163,.244),(.18,.244),(.186,.248),(.19,.258),(.204,.254),(.221,.256),(.226,.241),(.237,.243),(.245,.237),(.25,.236),(.259,.229),(.268,.233),(.271,.219),(.267,.215),(.247,.214),(.235,.218),(.227,.229),(.222,.226),(.212,.234),(.196,.23),(.191,.223),(.183,.222),(.168,.227),(.163,.232),(.176,.214),(.07,.227),(.1,.214),(.105,.214),(.092,.212),(.121,.218),(.117,.206),(.104,.2),(.08,.196),(.111,.191),(.131,.183),(.141,.184),(.147,.178),(.13,.171),(.102,.177),(.08,.182),(.086,.161),(.085,.154),(.076,.134),(.067,.128),(.082,.114),(.097,.112),(.057,.111),(.137,.138),(.145,.151),(.14,.118),(.117,.119),(.157,.189),(.167,.199),(.176,.199),(.172,.186),(.177,.182),(.184,.176),(.191,.161),(.199,.154),(.194,.142),(.2,.128),(.205,.123),(.181,.131),(.181,.109),(.194,.11),(.205,.095),(.212,.087),(.186,.1),(.177,.093),(.189,.082),(.191,.059),(.163,.034),(.143,.074),(.137,.105),(.2,.213),(.212,.213),(.22,.213),(.199,.204),(.225,.205),(.237,.203),(.25,.208),(.263,.199),(.276,.205),(.289,.203),(.302,.199),(.315,.196),(.342,.174),(.35,.172),(.353,.16),(.362,.144),(.376,.118),(.386,.104),(.398,.088),(.417,.064),(.405,.052),(.401,.066),(.394,.062),(.409,.024),(.4,.038),(.397,.018),(.306,-.119),(.326,-.108),(.278,-.106),(.295,-.087),(.329,-.055),(.346,-.048),(.342,-.067),(.317,-.053),(.309,-.034),(.314,-.038),(.304,-.014),(.331,-.003),(.148,-.237),(.237,-.177),(.198,-.164),(.09,-.157),(.031,-.15),(.014,-.065),(.031,-.094),(.398,-.083),(.373,-.046),(.341,-.074),(.411,.025),(.386,.018),(.359,-.05),(.308,-.118),(.355,.0),(.345,-.02),(.33,-.025),(.318,-.01),(.305,.005),(.32,.012)]

# ---- points that lie on top of the other clouds, class by class ----
TOP_ORANGE = [(.165,-.03),(.175,-.05),(.172,-.07),(.19,-.09),(.155,-.11),(.18,-.11),(.195,-.02),(.185,-.06),(.2,-.04),(.2,-.075),(.205,-.1),(.19,-.125),(.21,-.13),(.22,-.12),(.134,-.134),(.155,-.135),(.171,-.142),(.18,-.123),(.153,-.1),(.163,-.09),(.157,-.079),(.11,-.057),(.119,-.061),(.13,-.04),(.114,-.017),(.133,-.025)]
TOP_GREEN = [(.248,.013),(.252,-.061),(.236,-.073),(.237,-.038),(.243,-.046),(.23,-.032),(.219,-.077),(.198,-.003),(.191,-.03),(.209,-.069),(.209,-.13),(.218,-.119),(.25,-.121),(.22,-.1),(.205,-.055)]
TOP_GRAY = [(.135,-.06),(.095,-.05),(.12,-.09),(.147,-.02),(.19,-.05),(.2,-.04),(.185,-.01),(.205,.015),(.17,.02),(-.073,.055),(-.09,.115),(-.095,.12),(.012,.066),(-.1,.055)]
TOP_CYAN = [(-.173,.208),(-.177,.182),(-.101,.294),(-.148,.159),(-.107,.188),(-.203,.145),(-.188,.143),(-.201,.131),(-.168,.126),(-.195,.107),(-.182,.102),(-.135,.139),(-.123,.131),(-.064,.115),(-.023,.113),(-.225,.138),(.01,-.1),(-.01,-.23),(-.04,-.215),(-.075,-.2)]
TOP_MAGENTA = [(-.149,.328),(-.12,.289),(-.118,.276),(-.12,.253),(-.101,.241),(-.109,.234),(-.083,.256),(-.066,.241),(-.061,.272),(-.13,.304),(-.107,.325),(-.014,.342),(-.01,.337),(-.013,.207),(-.029,.212),(-.052,.165),(-.09,.166),(-.079,.15),(-.114,.112),(-.095,.112),(-.14,.15),(-.063,.21),(-.06,.2),(.05,.24),(.178,.155)]
TOP_RED = [(-.263,.165),(.053,.345),(-.21,.22),(-.19,.24),(-.015,-.107),(.098,.29),(.063,.2)]
TOP_BLACK = [(-.091,.263),(-.156,.181),(-.198,.173),(-.17,.147),(-.195,.112),(-.095,.125),(.014,.1),(-.01,.134)]

CORES = {0:RED_CORE,1:ORANGE_CORE,2:YELLOW_CORE,3:GREEN_CORE,4:CYAN_CORE,5:BLUE_CORE,6:MAGENTA_CORE,7:PINK_CORE,8:GRAY_CORE,9:BLACK_CORE}
SPARSE = {0:RED_SPARSE,1:ORANGE_SPARSE,2:YELLOW_SPARSE,3:GREEN_SPARSE,4:CYAN_SPARSE,5:BLUE_SPARSE,6:MAGENTA_SPARSE,7:PINK_SPARSE,8:GRAY_SPARSE,9:BLACK_SPARSE}
TOPS = [(1,TOP_ORANGE),(3,TOP_GREEN),(8,TOP_GRAY),(4,TOP_CYAN),(6,TOP_MAGENTA),(0,TOP_RED),(9,TOP_BLACK)]

rows = []
for k in DRAW_ORDER:
    for y, xs in CORES[k]:
        for x in xs:
            rows.append({"x": x, "y": y, "c": COLORS[k]})
    for x, y in SPARSE[k]:
        rows.append({"x": x, "y": y, "c": COLORS[k]})
for k, pts in TOPS:
    for x, y in pts:
        rows.append({"x": x, "y": y, "c": COLORS[k]})
df = pd.DataFrame(rows)

axis_common = dict(grid=False, domain=False, tickColor="black", tickSize=5, tickWidth=1.1,
                   labelColor="black", labelFont="DejaVu Sans", labelFontSize=13.9, labelPadding=5,
                   title=None)

scatter = alt.Chart(df).mark_circle(size=90, opacity=1).encode(
    x=alt.X("x:Q", scale=alt.Scale(domain=[-.4228, .4569], nice=False, zero=False),
            axis=alt.Axis(values=[-.4,-.3,-.2,-.1,0,.1,.2,.3,.4], format=".1f", labelFlush=False, **axis_common)),
    y=alt.Y("y:Q", scale=alt.Scale(domain=[-.4134, .456], nice=False, zero=False),
            axis=alt.Axis(values=[-.4,-.3,-.2,-.1,0,.1,.2,.3,.4], format=".1f", labelFlush=False, **axis_common)),
    color=alt.Color("c:N", scale=None),
).properties(width=1144, height=750)

bar_df = pd.DataFrame({"lo": BIN_LOW, "hi": BIN_HIGH, "c": COLORS})
bar = alt.Chart(bar_df).mark_rect().encode(
    y=alt.Y("lo:Q", scale=alt.Scale(domain=[0, 9], nice=False, zero=False),
            axis=alt.Axis(orient="right", values=TICKS, format="d", labelFlush=False, **axis_common)),
    y2="hi:Q",
    x=alt.value(0),
    x2=alt.value(37),
    color=alt.Color("c:N", scale=None),
).properties(width=37, height=750)

chart = alt.hconcat(scatter, bar, spacing=70).properties(
    padding={"left": 178.5, "top": 101.5, "right": 20, "bottom": 20},
    background="white",
).configure_view(stroke="black", strokeWidth=1.1)

chart.save("out.html", embed_options={"renderer": "svg", "actions": False})
